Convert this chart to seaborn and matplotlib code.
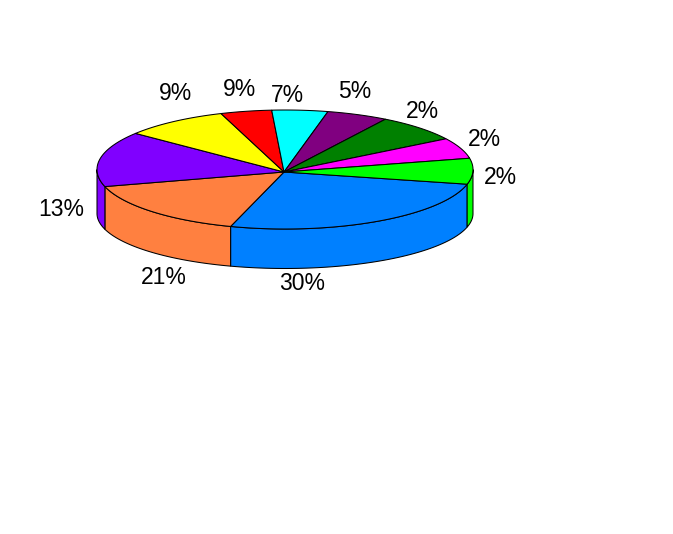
#!/usr/bin/env python3

import numpy as np
import matplotlib
matplotlib.use('Agg')
import matplotlib.pyplot as plt
import seaborn as sns

# slice shares read off the rim, going clockwise from the blue slice
# (printed labels don't agree with the drawn angles, so they are kept apart)
slice_shares = [25.7, 15.7, 15.0, 9.1, 4.4, 4.8, 5.3, 7.4, 5.6, 7.0]
slice_labels = ['30%', '21%', '13%', '9%', '9%', '7%', '5%', '2%', '2%', '2%']
slice_colors = ['#0080ff', '#ff8040', '#8000ff', '#ffff00', '#ff0000',
                '#00ffff', '#800080', '#008000', '#ff00ff', '#00ff00']

# label centres in figure pixels
LABEL_X = [302, 164, 61, 175, 239, 287, 355, 422, 484, 500]
LABEL_Y = [284, 277, 210, 93, 89, 95, 92, 111, 140, 177]

# pie geometry in pixels, bottom ellipse is a bit flatter (perspective)
START_ANGLE = -14.3
CX, RX = 285, 188
TOP_CY, TOP_RY = 169.5, 59.5
BOT_CY, BOT_RY = 213.5, 55.0
APEX = (284, 172)


def rim(angles, cy, ry):
    t = np.radians(angles)
    return CX + RX * np.cos(t), cy - ry * np.sin(t)


sns.set_theme(style='white')
plt.rcParams['font.family'] = ['Liberation Sans', 'DejaVu Sans']

fig = plt.figure(figsize=(6.73, 5.34), dpi=100)
ax = fig.add_axes([0, 0, 1, 1])
ax.set_xlim(0, 673)
ax.set_ylim(534, 0)
ax.axis('off')

edges = START_ANGLE - np.cumsum([0] + slice_shares) * 3.6

# side walls: only the part of each slice on the front half shows
for hi, lo, color in zip(edges[:-1], edges[1:], slice_colors):
    for shift in (0, 360):
        a = min(hi + shift, 0)
        b = max(lo + shift, -180)
        if a <= b:
            continue
        angles = np.linspace(a, b, 60)
        xt, yt = rim(angles, TOP_CY, TOP_RY)
        xb, yb = rim(angles, BOT_CY, BOT_RY)
        ax.fill(np.r_[xt, xb[::-1]], np.r_[yt, yb[::-1]],
                facecolor=color, edgecolor='black', linewidth=0.75, zorder=2)

# top face
for hi, lo, color in zip(edges[:-1], edges[1:], slice_colors):
    angles = np.linspace(hi, lo, 80)
    xt, yt = rim(angles, TOP_CY, TOP_RY)
    ax.fill(np.r_[APEX[0], xt], np.r_[APEX[1], yt],
            facecolor=color, edgecolor='black', linewidth=0.75, zorder=3)

for x, y, label in zip(LABEL_X, LABEL_Y, slice_labels):
    ax.text(x, y, label, fontsize=16.5, color='black', ha='center', va='center')

plt.savefig('out.png', dpi=100, facecolor='white')
plt.close()
